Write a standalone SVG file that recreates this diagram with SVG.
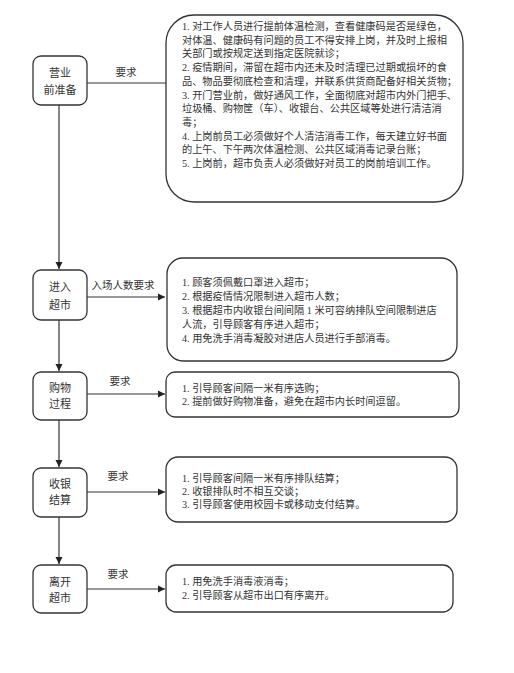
<svg xmlns="http://www.w3.org/2000/svg" width="514" height="673" viewBox="0 0 514 673">
<style>
.bg{fill:#fff}
.node{fill:#fff;stroke:#333;stroke-width:1.3}
.box{fill:#fff;stroke:#333;stroke-width:1.3}
.nt{font-family:"Liberation Serif","Noto Sans CJK SC",serif;font-size:11px;fill:#333;text-anchor:middle}
.bt{font-family:"Liberation Serif","Noto Sans CJK SC",serif;font-size:10.2px;fill:#333}
.lb{font-family:"Liberation Serif","Noto Sans CJK SC",serif;font-size:10.5px;fill:#333;text-anchor:middle}
.ln{stroke:#333;stroke-width:1.2;fill:none}
</style>
<defs>
<marker id="ah" markerWidth="8" markerHeight="8" refX="7" refY="4" orient="auto" markerUnits="userSpaceOnUse">
<path d="M0,0.5 L7,4 L0,7.5 Z" fill="#222"/>
</marker>
</defs>
<rect class="bg" x="0" y="0" width="514" height="673"/>
<g id="connectors">
<line class="ln" x1="59" y1="105" x2="59" y2="269" marker-end="url(#ah)"/>
<line class="ln" x1="59" y1="320" x2="59" y2="371" marker-end="url(#ah)"/>
<line class="ln" x1="59" y1="420" x2="59" y2="467" marker-end="url(#ah)"/>
<line class="ln" x1="59" y1="517" x2="59" y2="564" marker-end="url(#ah)"/>
<line class="ln" x1="87" y1="83" x2="166" y2="83"/>
<text class="lb" x="126" y="76">要求</text>
<line class="ln" x1="87" y1="297" x2="165" y2="297" marker-end="url(#ah)"/>
<text class="lb" x="123" y="289">入场人数要求</text>
<line class="ln" x1="87" y1="394" x2="165" y2="394" marker-end="url(#ah)"/>
<text class="lb" x="120" y="385">要求</text>
<line class="ln" x1="87" y1="492" x2="165" y2="492" marker-end="url(#ah)"/>
<text class="lb" x="118" y="480">要求</text>
<line class="ln" x1="87" y1="589" x2="165" y2="589" marker-end="url(#ah)"/>
<text class="lb" x="118" y="578">要求</text>
</g>
<g id="n1">
<rect class="node" x="33" y="56" width="54" height="49" rx="8"/>
<text class="nt" x="60" y="77">营业</text>
<text class="nt" x="60" y="94">前准备</text>
</g>
<g id="b1">
<rect class="box" x="166" y="15" width="297" height="187" rx="28"/>
<text class="bt" x="182" y="30">1. 对工作人员进行提前体温检测，查看健康码是否是绿色，</text>
<text class="bt" x="182" y="43.7">对体温、健康码有问题的员工不得安排上岗，并及时上报相</text>
<text class="bt" x="182" y="57.4">关部门或按规定送到指定医院就诊；</text>
<text class="bt" x="182" y="71.1">2. 疫情期间，滞留在超市内还未及时清理已过期或损坏的食</text>
<text class="bt" x="182" y="84.8">品、物品要彻底检查和清理，并联系供货商配备好相关货物；</text>
<text class="bt" x="182" y="98.5">3. 开门营业前，做好通风工作，全面彻底对超市内外门把手、</text>
<text class="bt" x="182" y="112.2">垃圾桶、购物筐（车）、收银台、公共区域等处进行清洁消</text>
<text class="bt" x="182" y="125.9">毒；</text>
<text class="bt" x="182" y="139.6">4. 上岗前员工必须做好个人清洁消毒工作，每天建立好书面</text>
<text class="bt" x="182" y="153.3">的上午、下午两次体温检测、公共区域消毒记录台账；</text>
<text class="bt" x="182" y="167">5. 上岗前，超市负责人必须做好对员工的岗前培训工作。</text>
</g>
<g id="n2">
<rect class="node" x="33" y="270" width="54" height="50" rx="8"/>
<text class="nt" x="60" y="291">进入</text>
<text class="nt" x="60" y="309">超市</text>
</g>
<g id="b2">
<rect class="box" x="167" y="258" width="290" height="103" rx="16"/>
<text class="bt" x="182" y="286">1. 顾客须佩戴口罩进入超市；</text>
<text class="bt" x="182" y="300">2. 根据疫情情况限制进入超市人数；</text>
<text class="bt" x="182" y="314">3. 根据超市内收银台间间隔 1 米可容纳排队空间限制进店</text>
<text class="bt" x="182" y="328">人流，引导顾客有序进入超市；</text>
<text class="bt" x="182" y="342">4. 用免洗手消毒凝胶对进店人员进行手部消毒。</text>
</g>
<g id="n3">
<rect class="node" x="33" y="372" width="54" height="48" rx="8"/>
<text class="nt" x="60" y="392">购物</text>
<text class="nt" x="60" y="408">过程</text>
</g>
<g id="b3">
<rect class="box" x="166" y="372" width="293" height="45" rx="9"/>
<text class="bt" x="182" y="392">1. 引导顾客间隔一米有序选购；</text>
<text class="bt" x="182" y="405">2. 提前做好购物准备，避免在超市内长时间逗留。</text>
</g>
<g id="n4">
<rect class="node" x="33" y="468" width="54" height="49" rx="8"/>
<text class="nt" x="60" y="488">收银</text>
<text class="nt" x="60" y="504">结算</text>
</g>
<g id="b4">
<rect class="box" x="166" y="457" width="291" height="65" rx="12"/>
<text class="bt" x="182" y="482">1. 引导顾客间隔一米有序排队结算；</text>
<text class="bt" x="182" y="495">2. 收银排队时不相互交谈；</text>
<text class="bt" x="182" y="508">3. 引导顾客使用校园卡或移动支付结算。</text>
</g>
<g id="n5">
<rect class="node" x="33" y="565" width="54" height="48" rx="8"/>
<text class="nt" x="60" y="586">离开</text>
<text class="nt" x="60" y="602">超市</text>
</g>
<g id="b5">
<rect class="box" x="166" y="565" width="287" height="47" rx="10"/>
<text class="bt" x="182" y="585">1. 用免洗手消毒液消毒；</text>
<text class="bt" x="182" y="599">2. 引导顾客从超市出口有序离开。</text>
</g>
</svg>
